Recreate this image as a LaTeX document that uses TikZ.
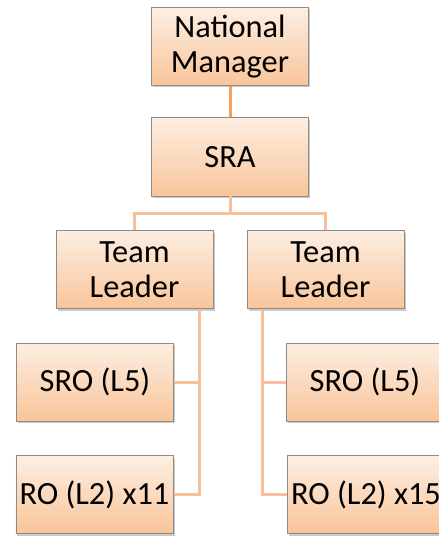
\documentclass[tikz,border=0pt]{standalone}
\usepackage{fontspec}
\setmainfont{Carlito}
\usetikzlibrary{shadows}
\definecolor{boxtop}{HTML}{FDEEE2}
\definecolor{boxbot}{HTML}{F9C59A}
\definecolor{boxline}{HTML}{8E8A86}
\definecolor{linkdark}{HTML}{F3A15E}
\definecolor{linklight}{HTML}{F8BF9C}
\tikzset{
  orgbox/.style={draw=boxline, line width=1pt, top color=boxtop, bottom color=boxbot,
    minimum width=157bp, minimum height=78bp, align=center, inner sep=0pt,
    font=\fontsize{32.5}{35}\selectfont, text=black,
    drop shadow={shadow xshift=1.5bp, shadow yshift=-2bp, opacity=0.35, fill=black!60}},
  toplink/.style={draw=linkdark, line width=3bp},
  link/.style={draw=linklight, line width=3bp}
}
\begin{document}
\begin{tikzpicture}[x=1bp,y=-1bp]
\useasboundingbox (0,0) rectangle (439,538);
% chart boxes
\node[orgbox] (nm)   at (230,46.5)  {National\\Manager};
\node[orgbox] (sra)  at (230,157)   {SRA};
\node[orgbox] (tl1)  at (134.5,269.5) {Team\\Leader};
\node[orgbox] (tl2)  at (325.5,269.5) {Team\\Leader};
\node[orgbox] (sro1) at (95,382)    {SRO (L5)};
\node[orgbox] (ro1)  at (94.5,494.5) {RO (L2) x11};
\node[orgbox] (sro2) at (365,382)   {SRO (L5)};
\node[orgbox] (ro2)  at (366,494.5) {RO (L2) x15};
% connectors
\coordinate (bus) at (230,213);
\coordinate (l1) at (199,309);
\coordinate (l2) at (262,309);
\draw[toplink] (nm.south) -- (sra.north);
\draw[link] (sra.south) -- (bus);
\draw[link] (bus) -| (tl1.north);
\draw[link] (bus) -| (tl2.north);
\draw[link] (l1) |- (sro1.east);
\draw[link] (l1) |- (ro1.east);
\draw[link] (l2) |- (sro2.west);
\draw[link] (l2) |- (ro2.west);
\end{tikzpicture}
\end{document}
